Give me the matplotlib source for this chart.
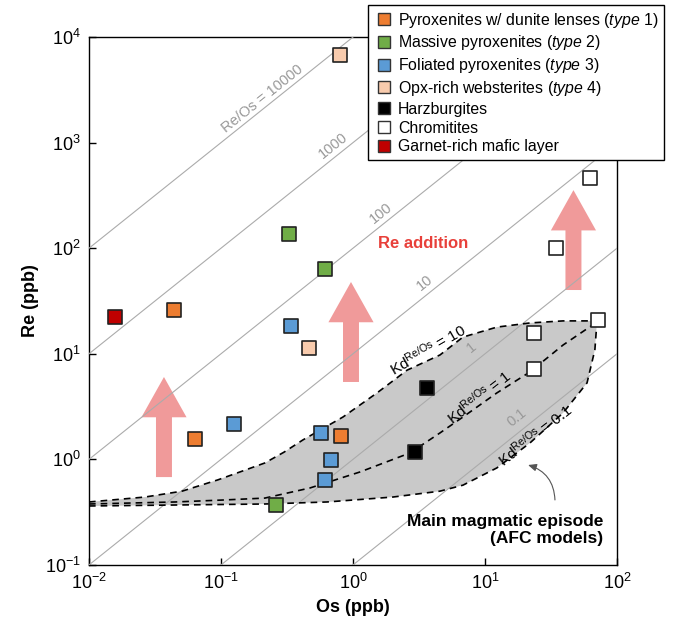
import numpy as np
import matplotlib
matplotlib.use("Agg")
import matplotlib.pyplot as plt
from matplotlib.lines import Line2D

plt.rcParams["font.family"] = "Liberation Sans"
plt.rcParams["mathtext.fontset"] = "custom"
plt.rcParams["mathtext.rm"] = "Liberation Sans"
plt.rcParams["mathtext.it"] = "Liberation Sans:italic"
plt.rcParams["mathtext.bf"] = "Liberation Sans:bold"

# sample groups: Os and Re concentrations (ppb)
type1_os = [0.044, 0.0635, 0.81]
type1_re = [26.0, 1.56, 1.67]
type2_os = [0.327, 0.614, 0.261]
type2_re = [136.0, 63.5, 0.37]
type3_os = [0.125, 0.339, 0.573, 0.68, 0.614]
type3_re = [2.16, 18.3, 1.78, 0.99, 0.64]
type4_os = [0.80, 0.465]
type4_re = [6760.0, 11.3]
harz_os = [3.64, 2.95]
harz_re = [4.74, 1.17]
chrom_os = [62.4, 34.5, 71.8, 23.5, 23.5]
chrom_re = [462.0, 100.0, 20.9, 15.7, 7.18]
garnet_os = [0.0157]
garnet_re = [22.3]

# AFC model curves for three Re/Os partition coefficients
kd10_os = [0.01, 0.0266, 0.0507, 0.0948, 0.139, 0.215, 0.30, 0.418, 0.84, 1.52, 2.57, 4.56, 6.81, 12.3, 21.9, 39.0, 70.5]
kd10_re = [0.395, 0.44, 0.50, 0.64, 0.76, 0.925, 1.17, 1.53, 2.52, 4.26, 7.0, 9.75, 14.4, 17.9, 19.6, 20.5, 20.5]
kd1_os = [0.01, 0.0449, 0.107, 0.215, 0.472, 1.13, 2.70, 4.56, 6.81, 12.3, 21.9, 39.0, 70.5]
kd1_re = [0.378, 0.395, 0.413, 0.43, 0.536, 0.76, 1.15, 1.78, 2.52, 4.26, 6.73, 12.1, 20.0]
kd01_os = [0.01, 0.215, 0.635, 2.01, 4.56, 6.81, 12.3, 21.9, 39.0, 59.3, 68.0, 70.5]
kd01_re = [0.362, 0.378, 0.395, 0.44, 0.50, 0.57, 0.83, 1.43, 2.75, 5.3, 10.9, 20.0]

ratios = [0.1, 1, 10, 100, 1000, 10000]
ratio_labels = ["0.1", "1", "10", "100", "1000", "Re/Os = 10000"]
ratio_label_os = [17.5, 7.98, 3.51, 1.63, 0.705, 0.205]
ratio_label_re = [2.47, 11.4, 46.8, 215.0, 929.0, 2590.0]

fig = plt.figure(figsize=(6.74, 6.24), dpi=100)
ax = fig.add_axes([0.132, 0.0946, 0.7834, 0.846])
ax.set_xscale("log")
ax.set_yscale("log")
ax.set_xlim(1e-2, 1e2)
ax.set_ylim(1e-1, 1e4)

# angle of a slope-1 line on screen
p = ax.transData.transform([(1, 1), (10, 10)])
line_angle = np.degrees(np.arctan2(p[1, 1] - p[0, 1], p[1, 0] - p[0, 0]))

# shaded AFC field
poly_os = kd10_os + kd01_os[::-1]
poly_re = kd10_re + kd01_re[::-1]
ax.fill(poly_os, poly_re, color="#c9c9c9", lw=0, zorder=1)

# Re addition arrows
pink = "#f09a9a"
for os_, lo, hi in [(0.037, 0.68, 6.03), (0.966, 5.41, 47.9), (46.8, 40.2, 355.0)]:
    ax.annotate("", xy=(os_, hi), xytext=(os_, lo),
                arrowprops=dict(arrowstyle="simple,head_length=2.9,head_width=3.25,tail_width=1.15",
                                mutation_scale=10, fc=pink, ec="none",
                                shrinkA=0, shrinkB=0), zorder=2)

# constant Re/Os lines
xs = np.array([1e-3, 1e3])
for r in ratios:
    ax.plot(xs, r * xs, color="#ababab", lw=0.8, zorder=3)
for lab, x, y in zip(ratio_labels, ratio_label_os, ratio_label_re):
    ax.text(x, y, lab, color="#999999", fontsize=10.5, rotation=line_angle,
            ha="center", va="center", rotation_mode="anchor", zorder=3)

for cx, cy in [(kd10_os, kd10_re), (kd1_os, kd1_re), (kd01_os, kd01_re)]:
    ax.plot(cx, cy, color="black", lw=1.2, ls=(0, (4, 3)), zorder=4)

kd_lab = r"Kd$^{\mathrm{Re/Os}}$ = "
ax.text(3.70, 10.9, kd_lab + "10", fontsize=11, rotation=30, ha="center", va="center",
        rotation_mode="anchor", zorder=5)
ax.text(9.0, 3.9, kd_lab + "1", fontsize=11, rotation=38, ha="center", va="center",
        rotation_mode="anchor", zorder=5)
ax.text(23.9, 1.70, kd_lab + "0.1", fontsize=11, rotation=38, ha="center", va="center",
        rotation_mode="anchor", zorder=5)

groups = [
    (type1_os, type1_re, "#ed7d31", r"Pyroxenites w/ dunite lenses ($\mathit{type\ 1}$)"),
    (type2_os, type2_re, "#70ad47", r"Massive pyroxenites ($\mathit{type\ 2}$)"),
    (type3_os, type3_re, "#5b9bd5", r"Foliated pyroxenites ($\mathit{type\ 3}$)"),
    (type4_os, type4_re, "#f8cbad", r"Opx-rich websterites ($\mathit{type\ 4}$)"),
    (harz_os, harz_re, "black", "Harzburgites"),
    (chrom_os, chrom_re, "white", "Chromitites"),
    (garnet_os, garnet_re, "#c00000", "Garnet-rich mafic layer"),
]
handles = []
for gx, gy, col, lab in groups:
    ax.scatter(gx, gy, s=95, marker="s", c=col, edgecolors="#222222", linewidths=1.2, zorder=6)
    handles.append(Line2D([], [], ls="none", marker="s", ms=8.5, mfc=col,
                          mec="#333333", mew=1.0, label=lab))

ax.text(3.39, 112, "Re addition", color="#e8403a", fontsize=12, fontweight="bold",
        ha="center", va="center", zorder=7)

ax.annotate("", xy=(21.2, 0.885), xytext=(33.9, 0.413),
            arrowprops=dict(arrowstyle="-|>,head_length=0.5,head_width=0.22",
                            connectionstyle="arc3,rad=0.35", color="#555555", lw=0.8,
                            shrinkA=0, shrinkB=0), zorder=7)
ax.text(78.3, 0.214, "Main magmatic episode\n(AFC models)", fontsize=12.5,
        fontweight="bold", ha="right", va="center", multialignment="right",
        linespacing=1.2, zorder=7)

ax.set_xlabel("Os (ppb)", fontsize=13, fontweight="bold", labelpad=4)
ax.set_ylabel("Re (ppb)", fontsize=13, fontweight="bold", labelpad=4)
ax.tick_params(which="major", direction="in", length=5, width=1, labelsize=13, pad=6)
ax.xaxis.set_minor_locator(matplotlib.ticker.NullLocator())
ax.yaxis.set_minor_locator(matplotlib.ticker.NullLocator())
for sp in ax.spines.values():
    sp.set_linewidth(1.0)

leg = ax.legend(handles=handles, loc="upper right", bbox_to_anchor=(0.985, 0.992),
                bbox_transform=fig.transFigure, fontsize=11.4, frameon=True, fancybox=False,
                framealpha=1, edgecolor="black", handlelength=1.25, handletextpad=0.28,
                labelspacing=0.24, borderpad=0.35, borderaxespad=0)
leg.get_frame().set_linewidth(1.0)
leg.set_zorder(10)

fig.savefig("out.png", dpi=100)
